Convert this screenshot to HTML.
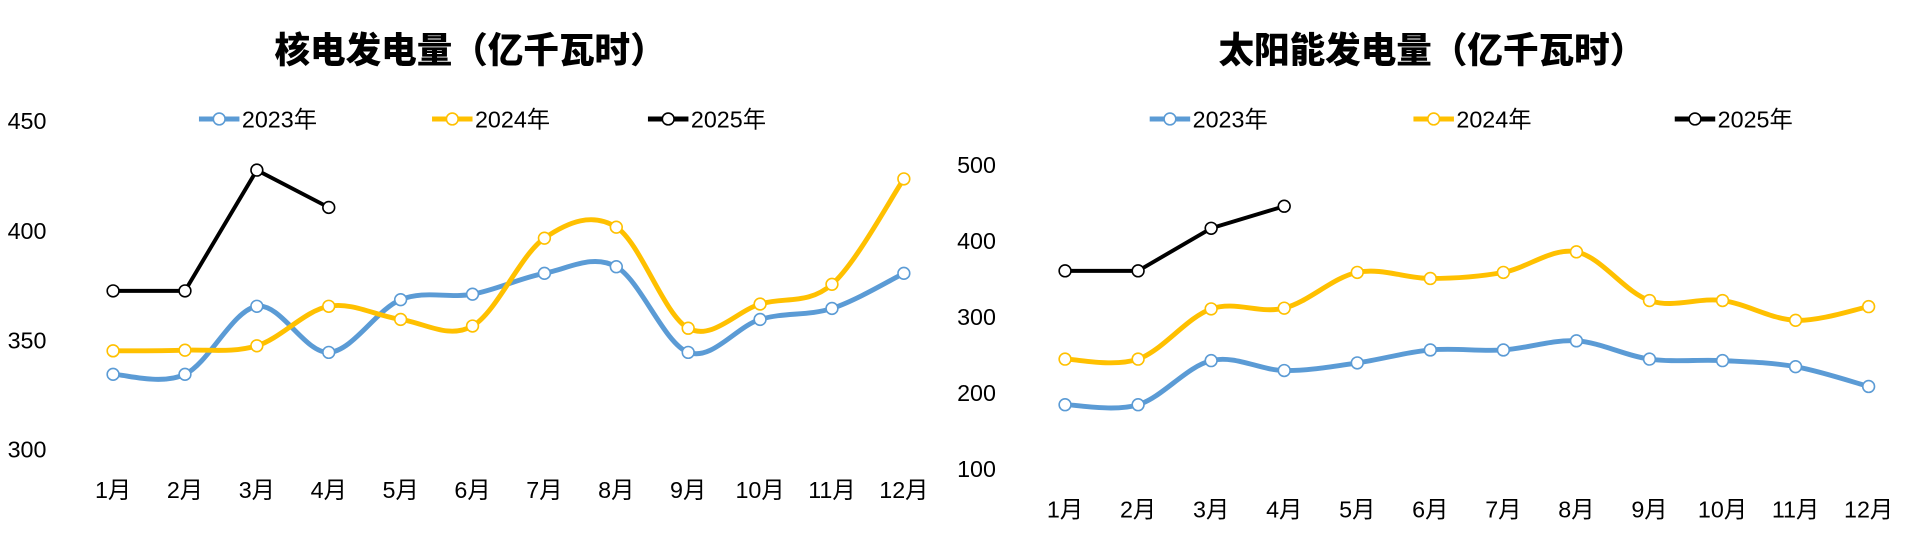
<!DOCTYPE html>
<html><head><meta charset="utf-8">
<style>html,body{margin:0;padding:0;background:#fff;}svg{display:block;}
text{font-family:"Liberation Sans","Noto Sans CJK SC",sans-serif;}</style></head>
<body>
<svg id="s" width="1924" height="541" viewBox="0 0 1568 441" xmlns="http://www.w3.org/2000/svg">
<rect width="1568" height="441" fill="#fff"/>
<text x="383" y="51" text-anchor="middle" font-size="29" font-weight="900" style="font-family:'Noto Sans CJK SC',sans-serif">核电发电量（亿千瓦时）</text>
<text x="1167" y="51" text-anchor="middle" font-size="29" font-weight="900" style="font-family:'Noto Sans CJK SC',sans-serif">太阳能发电量（亿千瓦时）</text>
<g font-size="19" fill="#000">
<text x="6" y="105">450</text><text x="6" y="195">400</text><text x="6" y="284">350</text><text x="6" y="373">300</text>
<text x="780" y="141">500</text><text x="780" y="203">400</text><text x="780" y="265">300</text><text x="780" y="327">200</text><text x="780" y="389">100</text>
</g>
<g id="g"></g>
</svg>
<script>
var ns="http://www.w3.org/2000/svg",g=document.getElementById('g');
function el(t,a,txt){var e=document.createElementNS(ns,t);for(var k in a)e.setAttribute(k,a[k]);if(txt)e.textContent=txt;g.appendChild(e);return e;}
function smooth(p){var d="M"+p[0][0]+","+p[0][1];for(var i=0;i<p.length-1;i++){var p0=p[i-1]||p[i],p1=p[i],p2=p[i+1],p3=p[i+2]||p2;var t=1/6;
d+=" C"+(p1[0]+(p2[0]-p0[0])*t)+","+(p1[1]+(p2[1]-p0[1])*t)+" "+(p2[0]-(p3[0]-p1[0])*t)+","+(p2[1]-(p3[1]-p1[1])*t)+" "+p2[0]+","+p2[1];}return d;}
function series(x0,dx,yf,data,col,sm,w){var p=data.map(function(v,i){return [x0+dx*i,yf(v)];});
el('path',{d:sm?smooth(p):"M"+p.map(function(q){return q.join(",")}).join(" L"),fill:"none",stroke:col,"stroke-width":w,"stroke-linejoin":"round"});
p.forEach(function(q){el('circle',{cx:q[0],cy:q[1],r:4.8,fill:"#fff",stroke:col,"stroke-width":1.3});});}
function chart(x0,dx,yf,d,ly,lx,my){
series(x0,dx,yf,d[0],"#5B9BD5",1,4);series(x0,dx,yf,d[1],"#FFC000",1,4);series(x0,dx,yf,d[2],"#000",0,3.2);
var cols=["#5B9BD5","#FFC000","#000"],names=["2023年","2024年","2025年"];
for(var i=0;i<3;i++){el('line',{x1:lx[i],y1:ly,x2:lx[i]+33,y2:ly,stroke:cols[i],"stroke-width":4});
el('circle',{cx:lx[i]+16.5,cy:ly,r:4.8,fill:"#fff",stroke:cols[i],"stroke-width":1.3});
el('text',{x:lx[i]+35,y:ly+7,"font-size":19},names[i]);}
for(var m=0;m<12;m++)el('text',{x:x0+dx*m,y:my,"text-anchor":"middle","font-size":19},(m+1)+"月");}
chart(92,58.6,function(v){return 366-(v-300)*1.79;},
[[334,334,365,344,368,370.5,380,383,344,359,364,380],[344.7,345,347,365,359,356,396,401,355,366,375,423],[372,372,427,410]],97,[162,352,528],406);
chart(868,59.55,function(v){return 382-(v-100)*0.62;},
[[184,184,242,229,239,256,256,268,244,242,234,208],[244,244,310,311,358,350,358,385,321,321,295,313],[360,360,416,445]],97,[937,1152,1365],422);
</script>
</body></html>
